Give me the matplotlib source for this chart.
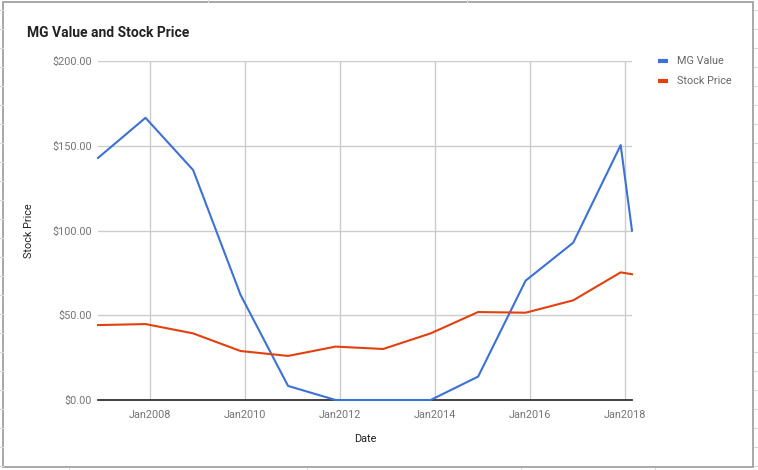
import numpy as np
import pandas as pd
import matplotlib
matplotlib.use("Agg")
import matplotlib.pyplot as plt
import matplotlib.dates as mdates
from matplotlib.patches import Rectangle
from matplotlib.lines import Line2D

plt.rcParams['font.family'] = ['Roboto', 'DejaVu Sans']

# Data
dates = pd.to_datetime([
    "2006-12-01", "2007-12-01", "2008-12-01", "2009-12-01", "2010-12-01",
    "2011-12-01", "2012-12-01", "2013-12-01", "2014-12-01", "2015-12-01",
    "2016-12-01", "2017-12-01", "2018-02-26",
])
mg_value = [142.8, 166.5, 135.7, 62.0, 8.3, 0.0, 0.0, 0.0, 13.8, 70.4, 92.8, 150.4, 99.9]
stock_price = [44.2, 44.8, 39.3, 28.9, 26.0, 31.5, 30.1, 39.3, 51.9, 51.5, 58.8, 75.3, 74.2]

series_names = ["MG Value", "Stock Price"]
series_colors = ["#3c71d7", "#e2400f"]
y_ticks = [0, 50, 100, 150, 200]
x_tick_years = [2008, 2010, 2012, 2014, 2016, 2018]

W, H = 758, 470
fig = plt.figure(figsize=(W / 100, H / 100), dpi=100)

# axes placed in pixel terms
left, right, top, bottom = 98, 632, 61, 400
ax = fig.add_axes([left / W, 1 - bottom / H, (right - left) / W, (bottom - top) / H])

ax.plot(dates, mg_value, color=series_colors[0], lw=1.5, zorder=3,
        solid_joinstyle="round", clip_on=False)
ax.plot(dates, stock_price, color=series_colors[1], lw=1.5, zorder=3,
        solid_joinstyle="round", clip_on=False)

ax.set_xlim(dates[0], dates[-1])
ax.set_ylim(0, 200)

ax.set_yticks(y_ticks)
ax.set_yticklabels(["${:.2f}".format(v) for v in y_ticks])
x_ticks = [pd.Timestamp(f"{y}-01-01") for y in x_tick_years]
ax.set_xticks(x_ticks)
ax.set_xticklabels([f"Jan{y}" for y in x_tick_years])

ax.grid(True, color="#cccccc", lw=1.0, zorder=0)
ax.axhline(0, color="#333333", lw=1.3, zorder=2, clip_on=False)
for s in ax.spines.values():
    s.set_visible(False)
ax.tick_params(axis="both", length=0, labelsize=7.8, labelcolor="#757575")
ax.tick_params(axis="y", pad=4.5)
ax.tick_params(axis="x", pad=7)

ax.set_xlabel("Date", fontsize=7.8, color="#222222", labelpad=10)
ax.set_ylabel("Stock Price", fontsize=7.8, color="#222222", labelpad=13)

fig.text(27 / W, 1 - 33 / H, "MG Value and Stock Price", fontsize=10,
         fontweight="bold", color="#222222", ha="left", va="center")

# legend drawn by hand like the Sheets chart
for i, name in enumerate(series_names):
    yy = 1 - (61 + 20 * i) / H
    fig.add_artist(Line2D([658 / W, 668 / W], [yy, yy], color=series_colors[i],
                          lw=3, solid_capstyle="butt"))
    fig.text(677 / W, yy, name, fontsize=7.8, color="#666666", ha="left", va="center")

# chart frame and spreadsheet cell stubs
fig.add_artist(Rectangle((3 / W, 1 - 467 / H), 750 / W, 465 / H, fill=False,
                         ec="#9a9a9a", lw=1.2, transform=fig.transFigure))
for yp in range(10, 470, 19):
    fig.add_artist(Line2D([754 / W, 1.0], [1 - yp / H] * 2, color="#d9d9d9", lw=0.8))
    fig.add_artist(Line2D([0, 2.5 / W], [1 - yp / H] * 2, color="#d9d9d9", lw=0.8))
for xp in [69, 307, 521, 655]:
    fig.add_artist(Line2D([xp / W] * 2, [0, 2.5 / H], color="#d9d9d9", lw=0.8))
for xp in [208, 467]:
    fig.add_artist(Line2D([xp / W] * 2, [1 - 1.5 / H, 1.0], color="#d9d9d9", lw=0.8))

fig.savefig("out.png", dpi=100)
